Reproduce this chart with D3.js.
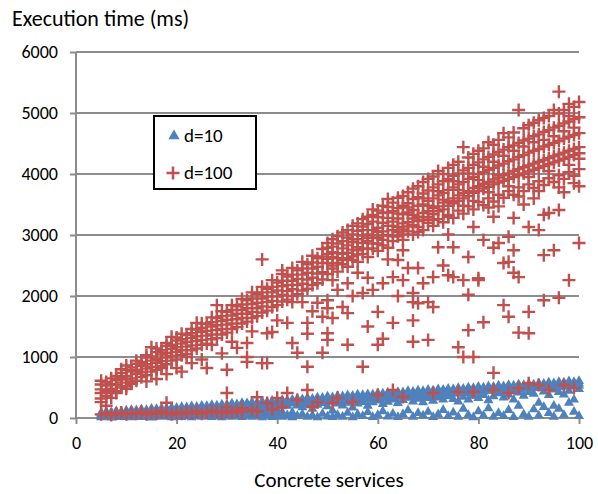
<!DOCTYPE html>
<html>
<head>
<meta charset="utf-8">
<script src="https://cdnjs.cloudflare.com/ajax/libs/d3/7.8.5/d3.min.js"></script>
<style>
  body { margin: 0; background: #fff; }
  svg { display: block; font-family: Carlito, Lato, "Open Sans", sans-serif; }
</style>
</head>
<body>
<svg></svg>
<script>
// chart text and ticks
const yTitle = "Execution time (ms)";
const xTitle = "Concrete services";
const xTicks = [0, 20, 40, 60, 80, 100];
const yTicks = [0, 1000, 2000, 3000, 4000, 5000, 6000];
const seriesNames = ["d=10", "d=100"];

// d=10 : each row is [services, time, time, ...]
const d10Rows = [
  [5, 10, 35, 60, 85], [6, 25, 55, 80, 100], [7, 5, 40, 70, 95], [8, 30, 65, 85, 110],
  [9, 15, 45, 90, 105], [10, 20, 60, 100, 120], [11, 10, 50, 75, 110, 130], [12, 35, 70, 95, 125],
  [13, 15, 55, 100, 140], [14, 25, 80, 110, 130], [15, 5, 45, 90, 120, 150], [16, 30, 70, 125, 145],
  [17, 20, 60, 100, 135, 160], [18, 40, 85, 115, 155], [19, 10, 55, 110, 145, 170], [20, 25, 75, 125, 165],
  [21, 15, 65, 120, 150, 180], [22, 35, 90, 130, 175], [23, 10, 60, 115, 160, 190], [24, 30, 80, 145, 185],
  [25, 20, 70, 120, 170, 200], [26, 45, 100, 150, 195], [27, 15, 65, 125, 185, 210], [28, 30, 90, 140, 205],
  [29, 10, 75, 130, 190, 220], [30, 40, 100, 165, 215], [31, 20, 70, 135, 195, 235], [32, 35, 110, 175, 225],
  [33, 15, 80, 150, 210, 245], [34, 45, 105, 180, 240], [35, 20, 70, 145, 220, 255], [36, 35, 120, 195, 250],
  [37, 10, 90, 160, 235, 270], [38, 40, 110, 205, 260], [39, 15, 80, 175, 245, 280], [40, 30, 125, 215, 275],
  [41, 20, 95, 190, 255, 295], [42, 45, 200, 240, 265, 290], [43, 10, 90, 235, 270, 300], [44, 35, 205, 250, 270, 315],
  [45, 60, 175, 245, 280, 305], [46, 20, 225, 260, 285, 325], [47, 40, 150, 265, 290, 315], [48, 10, 215, 260, 290, 335],
  [49, 70, 245, 280, 300, 330], [50, 25, 190, 285, 310, 350], [51, 15, 120, 265, 305, 340], [52, 50, 235, 280, 310, 360],
  [53, 20, 205, 290, 320, 355], [54, 85, 250, 290, 325, 370], [55, 10, 170, 285, 330, 365], [56, 60, 235, 315, 345, 385],
  [57, 30, 260, 310, 335, 375], [58, 95, 200, 305, 350, 390], [59, 15, 255, 345, 365, 385], [60, 50, 285, 320, 355, 405],
  [61, 110, 230, 325, 365, 400], [62, 25, 265, 335, 365, 415], [63, 70, 300, 340, 375, 410], [64, 15, 245, 345, 385, 425],
  [65, 60, 295, 350, 385, 420], [66, 125, 330, 370, 400, 440], [67, 20, 270, 365, 400, 430], [68, 80, 315, 360, 395, 450],
  [69, 40, 255, 350, 400, 440], [70, 100, 325, 370, 405, 460], [71, 15, 280, 385, 420, 450], [72, 60, 335, 380, 415, 470],
  [73, 130, 300, 395, 430, 460], [74, 30, 355, 390, 425, 480], [75, 90, 310, 405, 440, 470], [76, 20, 270, 400, 435, 490],
  [77, 150, 345, 425, 455, 480], [78, 50, 300, 410, 445, 500], [79, 10, 365, 420, 455, 490], [80, 110, 325, 435, 470, 510],
  [81, 40, 375, 430, 465, 500], [82, 160, 290, 445, 480, 520], [83, 20, 355, 440, 475, 510], [84, 80, 405, 450, 485, 530],
  [85, 30, 335, 455, 490, 520], [86, 130, 385, 460, 495, 540], [87, 15, 300, 465, 500, 530], [88, 200, 415, 470, 505, 550],
  [89, 60, 365, 485, 515, 540], [90, 20, 425, 480, 515, 560], [91, 140, 395, 495, 525, 550], [92, 40, 250, 490, 525, 570],
  [93, 180, 435, 505, 535, 560], [94, 80, 375, 500, 535, 580], [95, 20, 200, 465, 540, 570], [96, 150, 425, 510, 545, 590],
  [97, 50, 385, 515, 550, 580], [98, 250, 445, 520, 555, 600], [99, 100, 300, 525, 560, 590], [100, 30, 475, 530, 565, 605]
];

// d=100 : each row is [services, time, time, ...]
const d100Rows = [
  [5, 320, 410, 470, 550, 610, 260, 60], [6, 360, 440, 530, 590, 200, 80], [7, 410, 480, 560, 650, 330, 50],
  [8, 440, 540, 620, 690, 410, 70], [9, 500, 580, 660, 740, 800, 90], [10, 520, 630, 690, 790, 860, 480, 60],
  [11, 590, 650, 760, 830, 560, 80], [12, 610, 720, 790, 890, 940, 70], [13, 670, 750, 850, 920, 760, 100],
  [14, 700, 810, 880, 990, 1030, 600, 60], [15, 760, 840, 940, 1010, 1160, 90], [16, 790, 900, 970, 1080, 1140, 640, 70],
  [17, 850, 930, 1040, 1110, 820, 110], [18, 880, 990, 1070, 1180, 1230, 720, 250, 80], [19, 940, 1020, 1130, 1200, 1330, 60],
  [20, 960, 1080, 1160, 1270, 1320, 820, 90], [21, 1030, 1110, 1220, 1290, 1380, 760, 70], [22, 1050, 1170, 1250, 1360, 1000, 100],
  [23, 1110, 1190, 1310, 1390, 1460, 900, 80], [24, 1140, 1260, 1340, 1450, 1560, 110], [25, 1200, 1280, 1410, 1480, 1550, 960, 70],
  [26, 1220, 1350, 1430, 1540, 820, 90], [27, 1290, 1370, 1500, 1570, 1650, 1200, 120], [28, 1310, 1440, 1520, 1640, 1850, 100],
  [29, 1370, 1460, 1590, 1670, 1750, 1060, 80], [30, 1400, 1530, 1610, 1740, 790, 410, 180, 110],
  [31, 1460, 1550, 1680, 1770, 1850, 1250, 90], [32, 1490, 1620, 1710, 1830, 1150, 120], [33, 1550, 1640, 1770, 1860, 1950, 160, 100],
  [34, 1580, 1710, 1800, 1930, 1230, 1000, 920], [35, 1640, 1740, 1870, 1960, 2060, 1420, 130], [36, 1670, 1800, 1890, 2030, 340, 110],
  [37, 1730, 1830, 1960, 2060, 2150, 2600, 900], [38, 1760, 1900, 1990, 2120, 1390, 900, 245], [39, 1820, 1920, 2060, 2150, 2260, 1410, 140],
  [40, 1850, 1990, 2090, 2220, 1600, 330], [41, 1910, 2020, 2160, 2250, 2360, 2420, 180], [42, 1940, 2080, 2180, 2320, 1560, 410],
  [43, 2000, 2110, 2250, 2350, 2460, 1230, 1900], [44, 2030, 2180, 2280, 2420, 1070, 295], [45, 2090, 2200, 2350, 2450, 2560, 1900],
  [46, 2120, 2270, 2380, 2520, 1560, 1380, 460, 840], [47, 2180, 2300, 2450, 2550, 2660, 1750, 180], [48, 2210, 2370, 2480, 2620, 1890, 260],
  [49, 2270, 2390, 2540, 2650, 2770, 1660, 1070],
  [50, 2360, 2540, 2610, 2790, 2870, 2690, 1930, 1800, 1390, 1280], [51, 2450, 2500, 2720, 2930, 2640, 2810, 2260, 1640, 245],
  [52, 2400, 2620, 2700, 2860, 2980, 2540, 2100, 330], [53, 2520, 2590, 2780, 2900, 3040, 2690, 1820],
  [54, 2480, 2710, 2830, 2960, 3080, 2620, 2210, 1720, 1200], [55, 2590, 2650, 2880, 3010, 2760, 3150, 2930, 2000, 262],
  [56, 2560, 2800, 2930, 3070, 2680, 3190, 2750, 2380], [57, 2690, 2780, 2990, 3140, 2870, 3260, 3080, 2050, 840],
  [58, 2640, 2900, 3010, 3180, 3300, 2770, 2950, 2300, 1500], [59, 2780, 2860, 3080, 3220, 2990, 3420, 3330, 2100],
  [60, 2740, 2950, 3120, 3290, 3400, 2860, 3050, 1740, 1200, 377], [61, 2830, 3060, 2920, 3200, 3360, 3480, 2990, 2210, 1300],
  [62, 2790, 3000, 3150, 3280, 3460, 3590, 3370, 2600], [63, 2900, 3080, 3220, 3390, 2980, 3530, 3150, 2310, 1560, 460],
  [64, 2980, 3130, 3270, 3440, 3050, 3610, 3350, 2590, 2000], [65, 2920, 3190, 3340, 3480, 3090, 3640, 3010, 2750, 2260, 344],
  [66, 3060, 3210, 3370, 3520, 3700, 3140, 3450, 2460], [67, 3010, 3270, 3410, 3590, 3160, 3760, 3330, 2050, 1900, 1600, 1250],
  [68, 3130, 3300, 3480, 3620, 3230, 3800, 3050, 2460, 1880], [69, 3080, 3360, 3500, 3680, 3250, 3870, 3600, 2210],
  [70, 3200, 3390, 3560, 3730, 3290, 3920, 3480, 1900, 1280], [71, 3150, 3440, 3600, 3780, 3340, 3960, 3250, 2310, 1820, 410],
  [72, 3260, 3470, 3650, 3830, 3390, 4050, 3720, 2800], [73, 3210, 3530, 3690, 3880, 3420, 4000, 3580, 2500],
  [74, 3330, 3560, 3740, 3920, 3480, 4100, 3300, 2340, 3010], [75, 3280, 3600, 3780, 3970, 3520, 4150, 3880, 2800, 2310],
  [76, 3400, 3650, 3830, 4010, 3560, 4200, 3740, 1160, 426], [77, 3350, 3690, 3870, 4060, 3600, 4440, 3480, 2260, 1000],
  [78, 3470, 3720, 3920, 4100, 3640, 4270, 4010, 2640, 2020, 1440], [79, 3420, 3770, 3950, 4150, 3690, 4330, 3560, 3130, 1000, 426],
  [80, 3540, 3800, 4000, 4190, 3720, 4380, 3900, 2260, 2290], [81, 3490, 3840, 4030, 4240, 3760, 4420, 4120, 2920, 1570],
  [82, 3600, 3870, 4070, 4280, 3790, 4520, 3700, 3450], [83, 3550, 3910, 4100, 4320, 3830, 4480, 4200, 3300, 2790, 740, 460],
  [84, 3660, 3940, 4140, 4360, 3860, 4560, 3980, 2870, 3470], [85, 3610, 3980, 4170, 4400, 3890, 4670, 4300, 2540, 1850],
  [86, 3720, 4010, 4210, 4440, 3920, 4600, 3800, 2970, 2560, 1660, 410], [87, 3660, 4050, 4240, 4470, 3950, 4680, 4380, 3280, 2380, 2750],
  [88, 3780, 4080, 4280, 4510, 3980, 5050, 3630, 2310, 1400, 490], [89, 3720, 4110, 4310, 4550, 4010, 4750, 4450, 3500],
  [90, 3830, 4140, 4350, 4580, 4040, 4800, 3950, 3130, 1740, 1390, 570], [91, 3770, 4170, 4380, 4620, 4070, 4840, 4520, 3600],
  [92, 3880, 4200, 4410, 4650, 4100, 4880, 3720, 3080, 540], [93, 3820, 4230, 4450, 4690, 4130, 4920, 4560, 3330, 2670, 1930],
  [94, 3930, 4260, 4480, 4720, 4160, 4950, 4050, 3360, 460], [95, 3870, 4290, 4510, 4760, 4190, 5050, 4620, 2750],
  [96, 3980, 4320, 4540, 4790, 4220, 5350, 4990, 3780, 3410, 1970], [97, 3920, 4350, 4580, 4830, 4250, 5050, 4700, 3700, 540],
  [98, 4030, 4380, 4610, 4860, 4280, 4950, 5150, 4150, 2260], [99, 3970, 4410, 4640, 4900, 4310, 5100, 4760, 3850, 490],
  [100, 4080, 4440, 4670, 4930, 4340, 5180, 4250, 2870, 3800]
];

const width = 598;
const height = 494;
const margin = { top: 52, right: 19, bottom: 76, left: 76 };

const blue = "#4f81bd";
const red = "#c0504d";
const gridColor = "#8c8c8c";

// flatten rows into points
function toPoints(rows) {
  const pts = [];
  rows.forEach(r => r.slice(1).forEach(v => pts.push({ x: r[0], y: v })));
  return pts;
}
const d10 = toPoints(d10Rows);
const d100 = toPoints(d100Rows);

const svg = d3.select("svg")
  .attr("width", width)
  .attr("height", height);

const xScale = d3.scaleLinear()
  .domain([0, 100])
  .range([margin.left, width - margin.right]);

const yScale = d3.scaleLinear()
  .domain([0, 6000])
  .range([height - margin.bottom, margin.top]);

// horizontal gridlines
svg.append("g")
  .selectAll("line")
  .data(yTicks.slice(1))
  .enter()
  .append("line")
  .attr("x1", xScale(0))
  .attr("x2", xScale(100))
  .attr("y1", d => yScale(d))
  .attr("y2", d => yScale(d))
  .attr("stroke", gridColor)
  .attr("stroke-width", 2);

// axes
const yAxis = d3.axisLeft(yScale).tickValues(yTicks).tickFormat(d3.format("d")).tickSize(6).tickPadding(12);
const xAxis = d3.axisBottom(xScale).tickValues(xTicks).tickFormat(d3.format("d")).tickSize(6).tickPadding(12);

const gy = svg.append("g")
  .attr("transform", `translate(${margin.left},0)`)
  .call(yAxis);

const gx = svg.append("g")
  .attr("transform", `translate(0,${height - margin.bottom})`)
  .call(xAxis);

[gx, gy].forEach(g => {
  g.select(".domain").attr("stroke", gridColor).attr("stroke-width", 2);
  g.selectAll(".tick line").attr("stroke", gridColor).attr("stroke-width", 2);
  g.selectAll(".tick text").attr("font-size", 18).attr("fill", "#000")
    .attr("font-family", "Carlito, Lato, sans-serif");
});
gx.select(".domain").attr("d", `M${xScale(0)},0H${xScale(100)}`);
gy.select(".domain").attr("d", `M0,${yScale(6000)}V${yScale(0)}`);

// d=10 triangles
const tri = d3.symbol().type(d3.symbolTriangle).size(44);
svg.append("g")
  .selectAll("path")
  .data(d10)
  .enter()
  .append("path")
  .attr("d", tri)
  .attr("transform", d => `translate(${xScale(d.x)},${yScale(d.y)})`)
  .attr("fill", blue);

// d=100 crosses
const cross = "M-6.5,0H6.5M0,-6.5V6.5";
svg.append("g")
  .selectAll("path")
  .data(d100)
  .enter()
  .append("path")
  .attr("d", cross)
  .attr("transform", d => `translate(${xScale(d.x)},${yScale(d.y)})`)
  .attr("stroke", red)
  .attr("stroke-width", 2.4)
  .attr("fill", "none");

// titles
svg.append("text")
  .attr("x", 12)
  .attr("y", 26)
  .attr("font-size", 22)
  .text(yTitle);

svg.append("text")
  .attr("x", 329)
  .attr("y", 487)
  .attr("text-anchor", "middle")
  .attr("font-size", 21)
  .text(xTitle);

// legend
const legend = svg.append("g").attr("transform", "translate(154,116)");
legend.append("rect")
  .attr("width", 102)
  .attr("height", 73)
  .attr("fill", "#fff")
  .attr("stroke", "#000")
  .attr("stroke-width", 2);

legend.append("path")
  .attr("d", d3.symbol().type(d3.symbolTriangle).size(55))
  .attr("transform", "translate(20,20)")
  .attr("fill", blue);
legend.append("path")
  .attr("d", cross)
  .attr("transform", "translate(19,57)")
  .attr("stroke", red)
  .attr("stroke-width", 2.5);

legend.selectAll("text.lbl")
  .data(seriesNames)
  .enter()
  .append("text")
  .attr("class", "lbl")
  .attr("x", 30)
  .attr("y", (d, i) => 26 + i * 37)
  .attr("font-size", 19)
  .text(d => d);
</script>
</body>
</html>
